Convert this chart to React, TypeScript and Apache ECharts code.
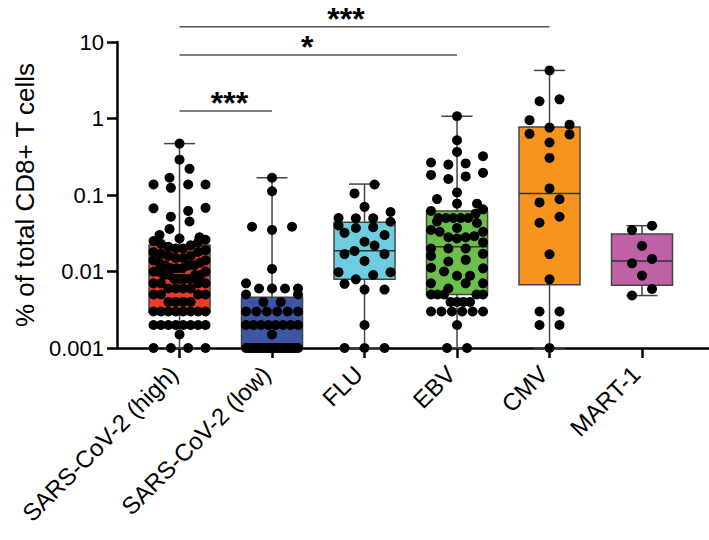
import React, { useEffect, useRef } from "react";
import * as echarts from "echarts";

// ---------- data ----------
const categories = ["SARS-CoV-2 (high)", "SARS-CoV-2 (low)", "FLU", "EBV", "CMV", "MART-1"];
const boxColors = ["#EE3A2A", "#3B56A6", "#6DCCDF", "#6BBF4A", "#F7941E", "#C061A8"];
const yTickLabels = ["0.001", "0.01", "0.1", "1", "10"];

const boxMin = [0.001, 0.001, 0.001, 0.001, 0.001, 0.00485];
const boxQ1 = [0.00294, 0.001, 0.0079, 0.005, 0.0067, 0.0066];
const boxMedian = [0.00885, 0.002, 0.0187, 0.021, 0.105, 0.0137];
const boxQ3 = [0.0222, 0.0046, 0.044, 0.0617, 0.775, 0.031];
const boxMax = [0.47, 0.168, 0.139, 1.07, 4.25, 0.0397];

const sarsHigh = [
  0.001, 0.001, 0.001, 0.001, 0.0015,
  0.002, 0.002, 0.002, 0.002, 0.002, 0.002, 0.002, 0.002,
  0.003, 0.003, 0.003, 0.003, 0.003, 0.003, 0.003, 0.003,
  0.004, 0.004, 0.004, 0.004, 0.005, 0.005, 0.005, 0.005,
  0.006, 0.006, 0.006, 0.006, 0.007, 0.007, 0.007, 0.007,
  0.008, 0.008, 0.008, 0.008, 0.009, 0.009, 0.009, 0.009,
  0.01, 0.01, 0.01, 0.011, 0.011, 0.011, 0.012, 0.012, 0.012,
  0.013, 0.013, 0.014, 0.014, 0.015, 0.015, 0.016, 0.016, 0.017,
  0.018, 0.018, 0.019, 0.02, 0.02,
  0.021, 0.022, 0.023, 0.024, 0.025, 0.026, 0.027, 0.028, 0.03,
  0.036, 0.045, 0.052, 0.062, 0.067, 0.068,
  0.124, 0.137, 0.137, 0.137, 0.168, 0.22, 0.29, 0.47,
];
const sarsLow = [
  0.001, 0.001, 0.001, 0.001, 0.001, 0.001, 0.001, 0.001, 0.001, 0.001, 0.001, 0.001,
  0.001, 0.001, 0.001, 0.001, 0.001, 0.001, 0.001, 0.001, 0.001, 0.001, 0.001, 0.001,
  0.0015, 0.002, 0.002, 0.002, 0.002, 0.002, 0.002, 0.002, 0.002,
  0.003, 0.003, 0.003, 0.003, 0.003, 0.003,
  0.004, 0.004, 0.005, 0.005, 0.006, 0.006, 0.006, 0.006, 0.007,
  0.0108, 0.035, 0.0385, 0.0385, 0.112, 0.168,
];
const flu = [
  0.001, 0.001, 0.001, 0.002, 0.0058, 0.0058, 0.0069, 0.0079, 0.009, 0.0098, 0.0098,
  0.0137, 0.0169, 0.0169, 0.0186, 0.0218, 0.0245, 0.03, 0.032, 0.037, 0.038, 0.04,
  0.0447, 0.0496, 0.0496, 0.05, 0.06, 0.07, 0.105, 0.137,
];
const ebv = [
  0.001, 0.001, 0.002, 0.003, 0.003, 0.003, 0.003, 0.003, 0.003,
  0.004, 0.004, 0.004, 0.004, 0.005, 0.005, 0.005, 0.005, 0.005,
  0.006, 0.007, 0.007, 0.007, 0.0088, 0.0088, 0.01, 0.011, 0.0112, 0.0135, 0.0142,
  0.016, 0.017, 0.02, 0.02, 0.02, 0.024, 0.027, 0.028, 0.028, 0.029,
  0.033, 0.033, 0.035, 0.037, 0.043, 0.045, 0.05, 0.05, 0.05, 0.05, 0.05,
  0.057, 0.062, 0.065, 0.077, 0.077, 0.0885, 0.108, 0.162, 0.175, 0.183, 0.195,
  0.25, 0.259, 0.266, 0.321, 0.366, 0.52, 1.07,
];
const cmv = [
  0.001, 0.002, 0.002, 0.003, 0.003, 0.0079, 0.0168, 0.0434, 0.052, 0.08, 0.088,
  0.122, 0.305, 0.485, 0.62, 0.63, 0.76, 0.83, 0.95, 1.68, 1.78, 4.25,
];
const mart1 = [0.00485, 0.0059, 0.00885, 0.0128, 0.0146, 0.0216, 0.0348, 0.0397];
const groupValues = [sarsHigh, sarsLow, flu, ebv, cmv, mart1];

// significance brackets
const bracketFrom = [0, 0, 0];
const bracketTo = [4, 3, 1];
const bracketLevel = [15.8, 6.76, 1.25];
const bracketLabelX = [1.8, 1.38, 0.54];
const bracketLabels = ["***", "*", "***"];

// ---------- layout ----------
const W = 709;
const H = 540;
const GRID_LEFT = 117;
const GRID_RIGHT = 0;
const GRID_TOP = 42;
const GRID_BOTTOM = 192;
const X_MIN = -0.676;
const X_MAX = 5.724;
const Y_MIN = 0.001;
const Y_MAX = 10;
const PX_PER_UNIT = (W - GRID_LEFT - GRID_RIGHT) / (X_MAX - X_MIN);
const PX_PER_DECADE = (H - GRID_TOP - GRID_BOTTOM) / Math.log10(Y_MAX / Y_MIN);
const ROW_H = 9;
const MAX_STEP = 20;
const HALF_SPREAD = 26;
const BOX_HALF = 30.5;
const CAP_HALF = 15.5;
const LABEL_SHIFT_PX = -6;
const FONT = "'Liberation Sans', Arial, Helvetica, sans-serif";

const tickPositions = categories.map((_, i) => i);
const labelPositions = tickPositions.map((p) => p + LABEL_SHIFT_PX / PX_PER_UNIT);

// scatter layout in rows, similar to a column scatter plot
function swarm(values: number[]): { v: number; dx: number }[] {
  const sorted = [...values].sort((a, b) => a - b);
  const ys = sorted.map((v) => PX_PER_DECADE * Math.log10(v));
  const out: { v: number; dx: number }[] = [];
  let start = 0;
  while (start < sorted.length) {
    let end = start + 1;
    while (end < sorted.length && ys[end] - ys[start] < ROW_H) end++;
    const n = end - start;
    const half = (n - 1) / 2;
    const s = n > 1 ? Math.min(MAX_STEP, HALF_SPREAD / half) : 0;
    for (let j = 0; j < n; j++) {
      let m: number;
      if (n % 2 === 1) {
        if (j === 0) m = 0;
        else if (j % 2 === 1) m = (j + 1) / 2;
        else m = -j / 2;
      } else {
        const k = Math.floor(j / 2) + 0.5;
        m = j % 2 === 0 ? -k : k;
      }
      out.push({ v: sorted[start + j], dx: m * s });
    }
    start = end;
  }
  return out;
}

const scatterData: number[][] = [];
groupValues.forEach((vals, g) => {
  swarm(vals).forEach((p) => scatterData.push([g + p.dx / PX_PER_UNIT, p.v]));
});

const boxData = categories.map((_, i) => [i, boxMin[i], boxQ1[i], boxMedian[i], boxQ3[i], boxMax[i]]);
const bracketData = bracketFrom.map((f, i) => [f, bracketTo[i], bracketLevel[i], bracketLabelX[i]]);

const axisLineStyle = { color: "#000", width: 2.5 };

const option: any = {
  animation: false,
  backgroundColor: "#fff",
  textStyle: { fontFamily: FONT },
  grid: {
    left: GRID_LEFT,
    right: GRID_RIGHT,
    top: GRID_TOP,
    bottom: GRID_BOTTOM,
    containLabel: false,
    outerBoundsMode: "none",
  },
  xAxis: {
    type: "value",
    min: X_MIN,
    max: X_MAX,
    axisLine: { show: true, onZero: false, lineStyle: axisLineStyle },
    axisTick: {
      show: true,
      customValues: tickPositions,
      length: 10,
      lineStyle: axisLineStyle,
    },
    axisLabel: {
      customValues: labelPositions,
      rotate: 45,
      fontSize: 24,
      color: "#000",
      margin: 22,
      fontFamily: FONT,
      formatter: (v: number) => categories[Math.round(v)] ?? "",
    },
    splitLine: { show: false },
  },
  yAxis: {
    type: "log",
    logBase: 10,
    min: Y_MIN,
    max: Y_MAX,
    axisLine: { show: true, onZero: false, lineStyle: axisLineStyle },
    axisTick: { show: true, length: 10, lineStyle: axisLineStyle },
    axisLabel: {
      fontSize: 22,
      color: "#000",
      margin: 13,
      fontFamily: FONT,
      formatter: (v: number) => yTickLabels[Math.round(Math.log10(v)) + 3] ?? "",
    },
    splitLine: { show: false },
    name: "% of total CD8+ T cells",
    nameLocation: "middle",
    nameGap: 73,
    nameTextStyle: { fontSize: 26, color: "#000", fontFamily: FONT },
  },
  series: [
    {
      type: "custom",
      name: "box",
      data: boxData,
      encode: { x: 0, y: [1, 2, 3, 4, 5] },
      z: 2,
      renderItem: (params: any, api: any) => {
        const i = api.value(0);
        const idx = params.dataIndex;
        const pMin = api.coord([i, api.value(1)]);
        const pQ1 = api.coord([i, api.value(2)]);
        const pMed = api.coord([i, api.value(3)]);
        const pQ3 = api.coord([i, api.value(4)]);
        const pMax = api.coord([i, api.value(5)]);
        const cx = pMed[0];
        const ws = { stroke: "#444", lineWidth: 1.5 };
        return {
          type: "group",
          children: [
            { type: "line", shape: { x1: cx, y1: pMax[1], x2: cx, y2: pQ3[1] }, style: ws },
            { type: "line", shape: { x1: cx - CAP_HALF, y1: pMax[1], x2: cx + CAP_HALF, y2: pMax[1] }, style: ws },
            { type: "line", shape: { x1: cx, y1: pQ1[1], x2: cx, y2: pMin[1] }, style: ws },
            { type: "line", shape: { x1: cx - CAP_HALF, y1: pMin[1], x2: cx + CAP_HALF, y2: pMin[1] }, style: ws },
            {
              type: "rect",
              shape: { x: cx - BOX_HALF, y: pQ3[1], width: BOX_HALF * 2, height: pQ1[1] - pQ3[1] },
              style: { fill: boxColors[idx], stroke: "#444", lineWidth: 1.5 },
            },
            {
              type: "line",
              shape: { x1: cx - BOX_HALF, y1: pMed[1], x2: cx + BOX_HALF, y2: pMed[1] },
              style: { stroke: "#333", lineWidth: 1.5 },
            },
          ],
        };
      },
    },
    {
      type: "scatter",
      name: "points",
      data: scatterData,
      symbol: "circle",
      symbolSize: 10,
      clip: false,
      z: 3,
      itemStyle: { color: "#000", opacity: 1 },
    },
    {
      type: "custom",
      name: "brackets",
      data: bracketData,
      encode: { x: [0, 1, 3], y: 2 },
      clip: false,
      z: 3,
      renderItem: (params: any, api: any) => {
        const idx = params.dataIndex;
        const a = api.coord([api.value(0), api.value(2)]);
        const b = api.coord([api.value(1), api.value(2)]);
        const t = api.coord([api.value(3), api.value(2)]);
        return {
          type: "group",
          children: [
            { type: "line", shape: { x1: a[0], y1: a[1], x2: b[0], y2: b[1] }, style: { stroke: "#555", lineWidth: 1.5 } },
            {
              type: "text",
              x: t[0],
              y: t[1] - 8,
              style: {
                text: bracketLabels[idx],
                fontSize: 32,
                fontWeight: "bold",
                fontFamily: FONT,
                fill: "#000",
                align: "center",
                verticalAlign: "middle",
              },
            },
          ],
        };
      },
    },
  ],
};

export default function App() {
  const ref = useRef<HTMLDivElement>(null);
  useEffect(() => {
    if (!ref.current) return;
    const chart = echarts.init(ref.current, null, { renderer: "svg" });
    chart.setOption(option);
    return () => chart.dispose();
  }, []);
  return (
    <div
      ref={ref}
      style={{ position: "fixed", left: 0, top: 0, width: W, height: H, background: "#fff" }}
    />
  );
}
